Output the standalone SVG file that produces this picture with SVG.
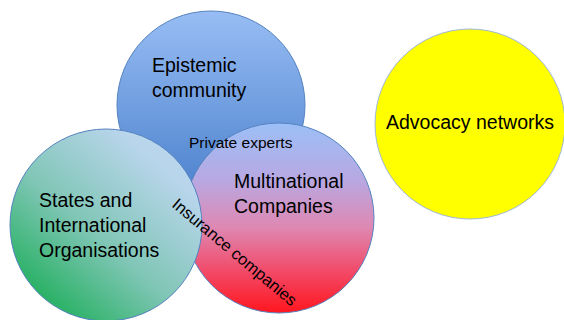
<svg xmlns="http://www.w3.org/2000/svg" width="564" height="320" viewBox="0 0 564 320">
<defs>
<linearGradient id="gBlue" x1="0" y1="0" x2="0" y2="1">
<stop offset="0" stop-color="#98bdf4"/>
<stop offset="1" stop-color="#4a80cc"/>
</linearGradient>
<linearGradient id="gGreen" x1="0.15" y1="0.95" x2="0.8" y2="0.2">
<stop offset="0" stop-color="#1cae58"/>
<stop offset="0.5" stop-color="#80c6b6"/>
<stop offset="1" stop-color="#b9d5ec"/>
</linearGradient>
<linearGradient id="gMulti" x1="0" y1="0" x2="0" y2="1">
<stop offset="0" stop-color="#9cbff7"/>
<stop offset="0.3" stop-color="#b8a8e2"/>
<stop offset="0.55" stop-color="#de88b2"/>
<stop offset="0.78" stop-color="#f24a68"/>
<stop offset="1" stop-color="#ff161e"/>
</linearGradient>
<style>
.c{stroke:#5583bf;stroke-width:1}
.t{font-family:"Liberation Sans",Arial,sans-serif;font-size:19.5px;fill:#000}
.s{font-family:"Liberation Sans",Arial,sans-serif;font-size:15.5px;fill:#000}
</style>
</defs>
<g id="epistemic">
<circle class="c" cx="211" cy="105" r="94" fill="url(#gBlue)"/>
</g>
<g id="multinational">
<circle class="c" cx="279" cy="218" r="95" fill="url(#gMulti)"/>
</g>
<g id="states">
<circle class="c" cx="106" cy="225" r="96" fill="url(#gGreen)"/>
</g>
<g id="advocacy">
<circle cx="470" cy="124" r="95" fill="#ffff00" stroke="#9fb8d4" stroke-width="1"/>
<text class="t" x="386" y="129">Advocacy networks</text>
</g>
<g id="labels">
<text class="t" x="152" y="72">Epistemic</text>
<text class="t" x="152" y="97">community</text>
<text class="s" x="189" y="148">Private experts</text>
<text class="t" x="234" y="188">Multinational</text>
<text class="t" x="234" y="213">Companies</text>
<text class="t" x="39" y="207">States and</text>
<text class="t" x="39" y="232">International</text>
<text class="t" x="39" y="257">Organisations</text>
<text class="s" style="font-size:16.5px" transform="translate(171,206) rotate(40)">Insurance companies</text>
</g>
<g id="connectors"/>
</svg>
